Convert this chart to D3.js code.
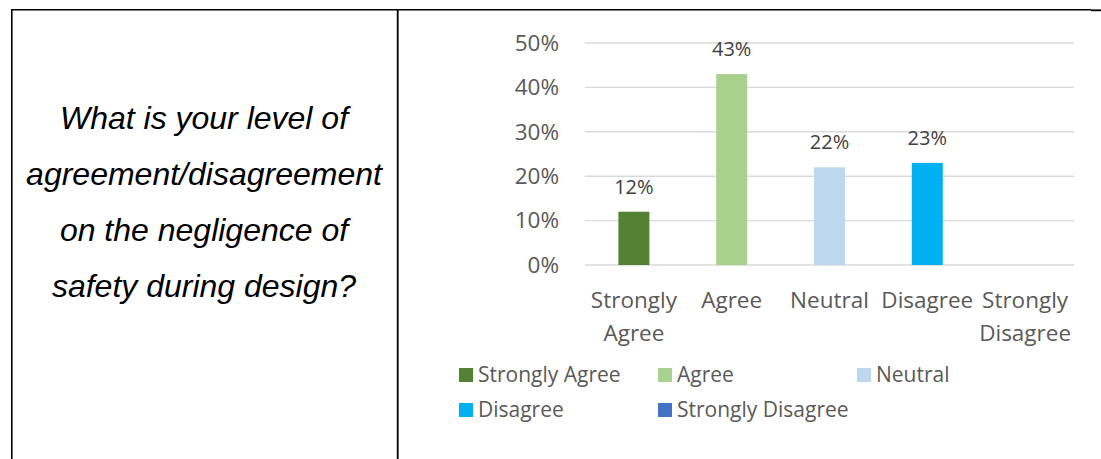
<!DOCTYPE html>
<html>
<head>
<meta charset="utf-8">
<script src="https://cdn.jsdelivr.net/npm/d3@7"></script>
<style>
  html, body { margin: 0; padding: 0; background: #fff; }
  svg { display: block; }
</style>
</head>
<body>
<svg id="chart" width="1101" height="459"></svg>
<script>
// Survey question shown in the left table cell
const questionLines = [
  "What is your level of",
  "agreement/disagreement",
  "on the negligence of",
  "safety during design?"
];

// Response categories and share of respondents (%)
const categories = ["Strongly Agree", "Agree", "Neutral", "Disagree", "Strongly Disagree"];
const values = [12, 43, 22, 23, 0];
const colors = ["#548235", "#A9D18E", "#BDD7EE", "#00B0F0", "#4472C4"];
const yTicks = [0, 10, 20, 30, 40, 50];

// Category labels wrap as they do on the axis
const categoryLabelLines = [["Strongly", "Agree"], ["Agree"], ["Neutral"], ["Disagree"], ["Strongly", "Disagree"]];

const svg = d3.select("#chart");

// ---- table frame ----
const frame = svg.append("g").attr("stroke", "#000").attr("fill", "none");
frame.append("line").attr("x1", 11).attr("x2", 1091).attr("y1", 9.8).attr("y2", 9.8).attr("stroke-width", 1.6);
frame.append("line").attr("x1", 1091).attr("x2", 1101).attr("y1", 10.3).attr("y2", 10.3).attr("stroke-width", 1.8);
frame.append("line").attr("x1", 11.8).attr("x2", 11.8).attr("y1", 9).attr("y2", 459).attr("stroke-width", 1.6);
frame.append("line").attr("x1", 397.7).attr("x2", 397.7).attr("y1", 9).attr("y2", 459).attr("stroke-width", 1.8);

// ---- question text ----
const qBase = [129, 185, 241, 296.5];
svg.append("g")
  .selectAll("text")
  .data(questionLines)
  .join("text")
  .attr("x", 204)
  .attr("y", (d, i) => qBase[i])
  .attr("text-anchor", "middle")
  .attr("font-family", "'Liberation Sans', Arial, sans-serif")
  .attr("font-style", "italic")
  .attr("font-size", 32)
  .attr("fill", "#000")
  .text(d => d);

// ---- chart ----
const plot = { left: 585, right: 1074, top: 43, bottom: 265 };
const font = "'Open Sans', 'Noto Sans', sans-serif";
const textColor = "#595959";

const x = d3.scaleBand()
  .domain(categories)
  .range([plot.left, plot.right])
  .paddingInner(0.683)
  .paddingOuter(0.683 / 2);

const y = d3.scaleLinear()
  .domain([0, 50])
  .range([plot.bottom, plot.top]);

// gridlines
svg.append("g")
  .selectAll("line")
  .data(yTicks)
  .join("line")
  .attr("x1", plot.left)
  .attr("x2", plot.right)
  .attr("y1", d => y(d))
  .attr("y2", d => y(d))
  .attr("stroke", "#D9D9D9")
  .attr("stroke-width", 1.4);

// y axis labels
const yAxis = d3.axisLeft(y)
  .tickValues(yTicks)
  .tickFormat(d => d + "%")
  .tickSize(0)
  .tickPadding(26);
const yg = svg.append("g")
  .attr("transform", `translate(${plot.left},0)`)
  .call(yAxis);
yg.select(".domain").remove();
yg.selectAll("text")
  .attr("font-family", font)
  .attr("font-size", 22.5)
  .attr("fill", textColor);

// bars
svg.append("g")
  .selectAll("rect")
  .data(categories)
  .join("rect")
  .attr("x", d => x(d))
  .attr("width", x.bandwidth())
  .attr("y", (d, i) => y(values[i]))
  .attr("height", (d, i) => y(0) - y(values[i]))
  .attr("fill", (d, i) => colors[i]);

// value labels (only for non-zero bars)
svg.append("g")
  .selectAll("text")
  .data(categories.filter((d, i) => values[i] > 0))
  .join("text")
  .attr("x", d => x(d) + x.bandwidth() / 2)
  .attr("y", d => y(values[categories.indexOf(d)]) - 18)
  .attr("text-anchor", "middle")
  .attr("font-family", font)
  .attr("font-size", 20)
  .attr("fill", "#404040")
  .text(d => values[categories.indexOf(d)] + "%");

// category labels
const catG = svg.append("g");
categories.forEach((c, i) => {
  const t = catG.append("text")
    .attr("x", x(c) + x.bandwidth() / 2)
    .attr("y", 308)
    .attr("text-anchor", "middle")
    .attr("font-family", font)
    .attr("font-size", 22.5)
    .attr("fill", textColor);
  categoryLabelLines[i].forEach((line, j) => {
    t.append("tspan")
      .attr("x", x(c) + x.bandwidth() / 2)
      .attr("dy", j === 0 ? 0 : 33)
      .text(line);
  });
});

// legend
const legendCols = [459, 658, 857];
const legendRows = [375, 410];
const legend = svg.append("g");
categories.forEach((c, i) => {
  const col = i % 3, row = Math.floor(i / 3);
  const g = legend.append("g")
    .attr("transform", `translate(${legendCols[col]},${legendRows[row]})`);
  g.append("rect")
    .attr("x", 0).attr("y", -7)
    .attr("width", 14).attr("height", 14)
    .attr("fill", colors[i]);
  g.append("text")
    .attr("x", 19).attr("y", 0)
    .attr("dy", "0.35em")
    .attr("font-family", font)
    .attr("font-size", 21)
    .attr("fill", textColor)
    .text(c);
});
</script>
</body>
</html>
